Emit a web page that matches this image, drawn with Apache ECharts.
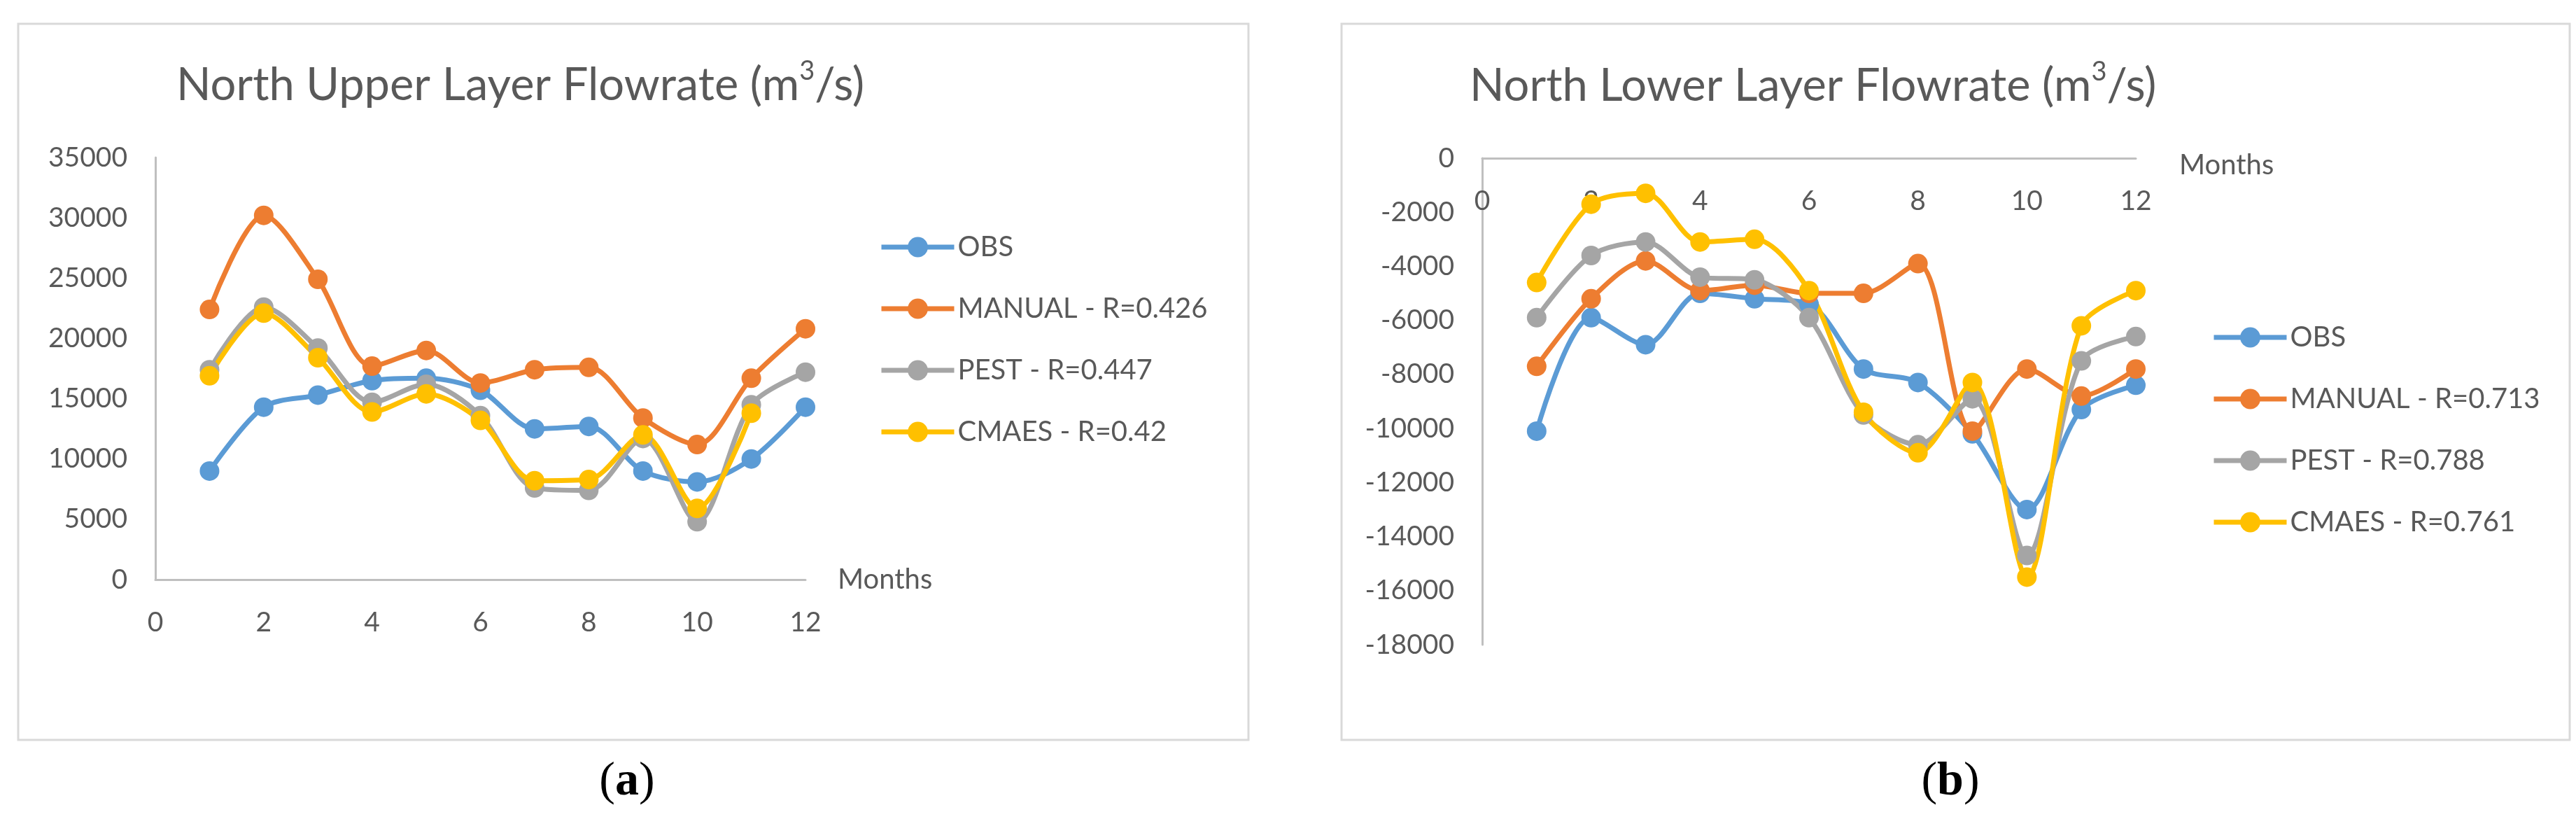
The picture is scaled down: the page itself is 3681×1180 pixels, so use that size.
<!DOCTYPE html>
<html>
<head>
<meta charset="utf-8">
<script src="https://cdn.jsdelivr.net/npm/echarts@6/dist/echarts.min.js"></script>
<style>
  html, body { margin: 0; padding: 0; background: #fff; }
  #main { width: 3681px; height: 1180px; }
</style>
</head>
<body>
<div id="main"></div>
<script>
/* months on the x axis */
var months = [1, 2, 3, 4, 5, 6, 7, 8, 9, 10, 11, 12];

/* (a) north upper layer */
var upperObs    = [9000, 14300, 15300, 16500, 16700, 15700, 12500, 12700, 9000, 8100, 10000, 14300];
var upperManual = [22400, 30200, 24900, 17700, 19000, 16300, 17400, 17600, 13400, 11200, 16700, 20800];
var upperPest   = [17400, 22600, 19200, 14700, 16200, 13600, 7600, 7400, 11700, 4800, 14500, 17200];
var upperCmaes  = [16900, 22100, 18400, 13900, 15400, 13200, 8200, 8300, 12000, 5900, 13800, null];
var upperNames  = ['OBS', 'MANUAL - R=0.426', 'PEST - R=0.447', 'CMAES - R=0.42'];

/* (b) north lower layer */
var lowerObs    = [-10100, -5900, -6900, -5000, -5200, -5400, -7800, -8300, -10200, -13000, -9300, -8400];
var lowerManual = [-7700, -5200, -3800, -4900, -4700, -5000, -5000, -3900, -10100, -7800, -8800, -7800];
var lowerPest   = [-5900, -3600, -3100, -4400, -4500, -5900, -9500, -10600, -8900, -14700, -7500, -6600];
var lowerCmaes  = [-4600, -1700, -1300, -3100, -3000, -4900, -9400, -10900, -8300, -15500, -6200, -4900];
var lowerNames  = ['OBS', 'MANUAL - R=0.713', 'PEST - R=0.788', 'CMAES - R=0.761'];

var colors = ['#5B9BD5', '#ED7D31', '#A5A5A5', '#FFC000'];
var txt = '#595959';
var font = 'Lato';

function pairs(arr){
    var out = [];
    for (var i = 0; i < months.length; i++) {
        if (arr[i] != null) out.push([months[i], arr[i]]);
    }
    return out;
}

function mkSeries(names, lists, idx){
    var s = [];
    for (var i = 0; i < lists.length; i++) {
        s.push({
            type: 'line',
            name: names[i],
            xAxisIndex: idx,
            yAxisIndex: idx,
            data: pairs(lists[i]),
            smooth: 0.3,
            symbol: 'circle',
            symbolSize: 28,
            showAllSymbol: true,
            color: colors[i],
            lineStyle: { width: 7, color: colors[i] },
            itemStyle: { color: colors[i] },
            emphasis: { disabled: true },
            animation: false
        });
    }
    return s;
}

// plain numbers, no thousands separator
function plain(v){ return String(v); }

var upperX = {
    type: 'value', gridIndex: 0, min: 0, max: 12, interval: 2,
    name: 'Months', nameLocation: 'end', nameGap: 46,
    nameTextStyle: { fontFamily: font, fontSize: 40, color: txt, verticalAlign: 'middle' },
    axisLine: { show: true, onZero: false, lineStyle: { color: '#BFBFBF', width: 3 } },
    axisTick: { show: false },
    splitLine: { show: false },
    axisLabel: { fontFamily: font, fontSize: 39, color: txt, margin: 42 }
};

/* lower chart: the month axis sits on y=0, which is the top of the grid */
var lowerX = {
    type: 'value', gridIndex: 1, min: 0, max: 12, interval: 2, position: 'top',
    name: 'Months', nameLocation: 'end', nameGap: 62,
    nameTextStyle: { fontFamily: font, fontSize: 40, color: txt, verticalAlign: 'top', padding: [-10, 0, 0, 0] },
    axisLine: { show: true, onZero: false, lineStyle: { color: '#BFBFBF', width: 3 } },
    axisTick: { show: false },
    splitLine: { show: false },
    axisLabel: { fontFamily: font, fontSize: 39, color: txt, inside: true, margin: 42 }
};

function yAx(idx, min, max, step){
    return {
        type: 'value', gridIndex: idx, min: min, max: max, interval: step,
        axisLine: { show: true, lineStyle: { color: '#BFBFBF', width: 3 } },
        axisTick: { show: false },
        splitLine: { show: false },
        axisLabel: { fontFamily: font, fontSize: 39, color: txt, margin: 40, formatter: plain }
    };
}

function titleOf(text, left, top){
    return {
        text: text, left: left, top: top, padding: 0,
        textStyle: {
            fontFamily: font, fontSize: 65, fontWeight: 'normal', color: txt, lineHeight: 78,
            rich: {
                sup: { fontFamily: font, fontSize: 38, color: txt, verticalAlign: 'top', lineHeight: 78 }
            }
        }
    };
}

function legendOf(names, left, top){
    return {
        data: names, orient: 'vertical', left: left, top: top,
        itemWidth: 104, itemHeight: 36, itemGap: 44, padding: 0,
        selectedMode: false,
        lineStyle: { width: 7 },
        textStyle: { fontFamily: font, fontSize: 40, color: txt, lineHeight: 44 }
    };
}

var myChart = echarts.init(document.getElementById('main'));

myChart.setOption({
    backgroundColor: '#fff',
    animation: false,
    title: [
        titleOf('North Upper Layer Flowrate (m{sup|3}/s)', 252, 83),
        titleOf('North Lower Layer Flowrate (m{sup|3}/s)', 2100, 84)
    ],
    legend: [
        legendOf(upperNames, 1256, 331),
        legendOf(lowerNames, 3160, 460)
    ],
    grid: [
        { left: 222, top: 225, width: 929, height: 603 },
        { left: 2118, top: 226, width: 934, height: 695 }
    ],
    xAxis: [ upperX, lowerX ],
    yAxis: [ yAx(0, 0, 35000, 5000), yAx(1, -18000, 0, 2000) ],
    series: mkSeries(upperNames, [upperObs, upperManual, upperPest, upperCmaes], 0)
        .concat(mkSeries(lowerNames, [lowerObs, lowerManual, lowerPest, lowerCmaes], 1)),
    graphic: [
        { type: 'rect', shape: { x: 26, y: 34, width: 1758, height: 1023 },
          style: { fill: 'none', stroke: '#D9D9D9', lineWidth: 3 }, z: -1 },
        { type: 'rect', shape: { x: 1917, y: 34, width: 1755, height: 1023 },
          style: { fill: 'none', stroke: '#D9D9D9', lineWidth: 3 }, z: -1 },
        { type: 'text', x: 896, y: 1117,
          style: { text: '({b|a})', fill: '#000', fontFamily: 'Liberation Serif', fontSize: 68,
                   align: 'center', verticalAlign: 'middle',
                   rich: { b: { fontFamily: 'Liberation Serif', fontSize: 68, fontWeight: 'bold', fill: '#000' } } } },
        { type: 'text', x: 2787, y: 1117,
          style: { text: '({b|b})', fill: '#000', fontFamily: 'Liberation Serif', fontSize: 68,
                   align: 'center', verticalAlign: 'middle',
                   rich: { b: { fontFamily: 'Liberation Serif', fontSize: 68, fontWeight: 'bold', fill: '#000' } } } }
    ]
});
</script>
</body>
</html>
